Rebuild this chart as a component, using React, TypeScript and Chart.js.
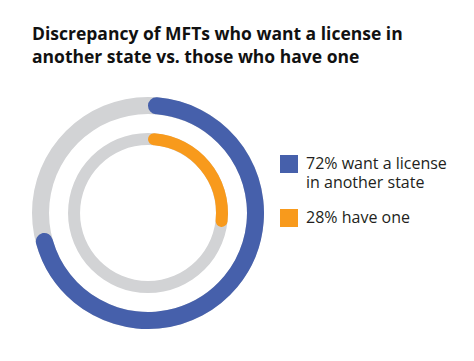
import React, { useEffect, useRef } from "react";
import { Chart, registerables } from "chart.js";

Chart.register(...registerables);

const titleLines = ["Discrepancy of MFTs who want a license in", "another state vs. those who have one"];
const wantLicense = [72, 28];
const haveLicense = [28, 72];
const legendItems = [
  { color: "#4660AB", lines: ["72% want a license", "in another state"] },
  { color: "#F89A1C", lines: ["28% have one"] },
];
const BLUE = "#4660AB";
const ORANGE = "#F89A1C";
const TRACK = "#D2D3D5";

const trackPlugin = {
  id: "trackRing",
  beforeDatasetDraw(chart: any, args: any) {
    const ds = chart.data.datasets[args.index];
    if (!ds.track) return;
    const arc = args.meta.data[0];
    if (!arc) return;
    const { x, y, innerRadius, outerRadius } = arc.getProps(["x", "y", "innerRadius", "outerRadius"], true);
    const ctx = chart.ctx;
    ctx.save();
    ctx.fillStyle = ds.track;
    ctx.beginPath();
    ctx.arc(x, y, outerRadius, 0, Math.PI * 2);
    ctx.arc(x, y, innerRadius, 0, Math.PI * 2, true);
    ctx.closePath();
    ctx.fill();
    ctx.restore();
  },
};

export default function App() {
  const ref = useRef<HTMLCanvasElement>(null);
  useEffect(() => {
    if (!ref.current) return;
    const chart = new Chart(ref.current, {
      type: "doughnut",
      data: {
        labels: ["a", "b"],
        datasets: [
          {
            data: wantLicense,
            backgroundColor: [BLUE, "rgba(0,0,0,0)"],
            borderRadius: [20, 0],
            borderWidth: 0,
            weight: 17,
            track: TRACK,
          } as any,
          {
            data: [1],
            backgroundColor: ["rgba(0,0,0,0)"],
            borderWidth: 0,
            weight: 19,
          } as any,
          {
            data: haveLicense,
            backgroundColor: [ORANGE, "rgba(0,0,0,0)"],
            borderRadius: [20, 0],
            borderWidth: 0,
            weight: 12,
            track: TRACK,
          } as any,
        ],
      },
      options: {
        responsive: false,
        animation: false,
        events: [],
        cutout: "58.6%",
        layout: { padding: 0 },
        plugins: { legend: { display: false }, tooltip: { enabled: false }, title: { display: false } },
      },
      plugins: [trackPlugin],
    });
    return () => chart.destroy();
  }, []);

  return (
    <div style={{ position: "relative", width: 458, height: 345, fontFamily: "'Open Sans', sans-serif" }}>
      <div
        style={{
          position: "absolute",
          left: 24,
          top: 14,
          fontWeight: 700,
          fontSize: 17.5,
          lineHeight: "23px",
          color: "#111",
          whiteSpace: "nowrap",
        }}
      >
        {titleLines.map((l, i) => (
          <div key={i}>{l}</div>
        ))}
      </div>
      <canvas ref={ref} width={232} height={232} style={{ position: "absolute", left: 24, top: 89, width: 232, height: 232 }} />
      <div style={{ position: "absolute", left: 272, top: 146 }}>
        {legendItems.map((it, i) => (
          <div key={i} style={{ display: "flex", alignItems: "flex-start", marginBottom: 17 }}>
            <div style={{ width: 18, height: 18, background: it.color, marginTop: 1, flex: "none" }} />
            <div style={{ marginLeft: 8, fontSize: 16, lineHeight: "18.5px", color: "#231F20" }}>
              {it.lines.map((l, j) => (
                <div key={j}>{l}</div>
              ))}
            </div>
          </div>
        ))}
      </div>
    </div>
  );
}
